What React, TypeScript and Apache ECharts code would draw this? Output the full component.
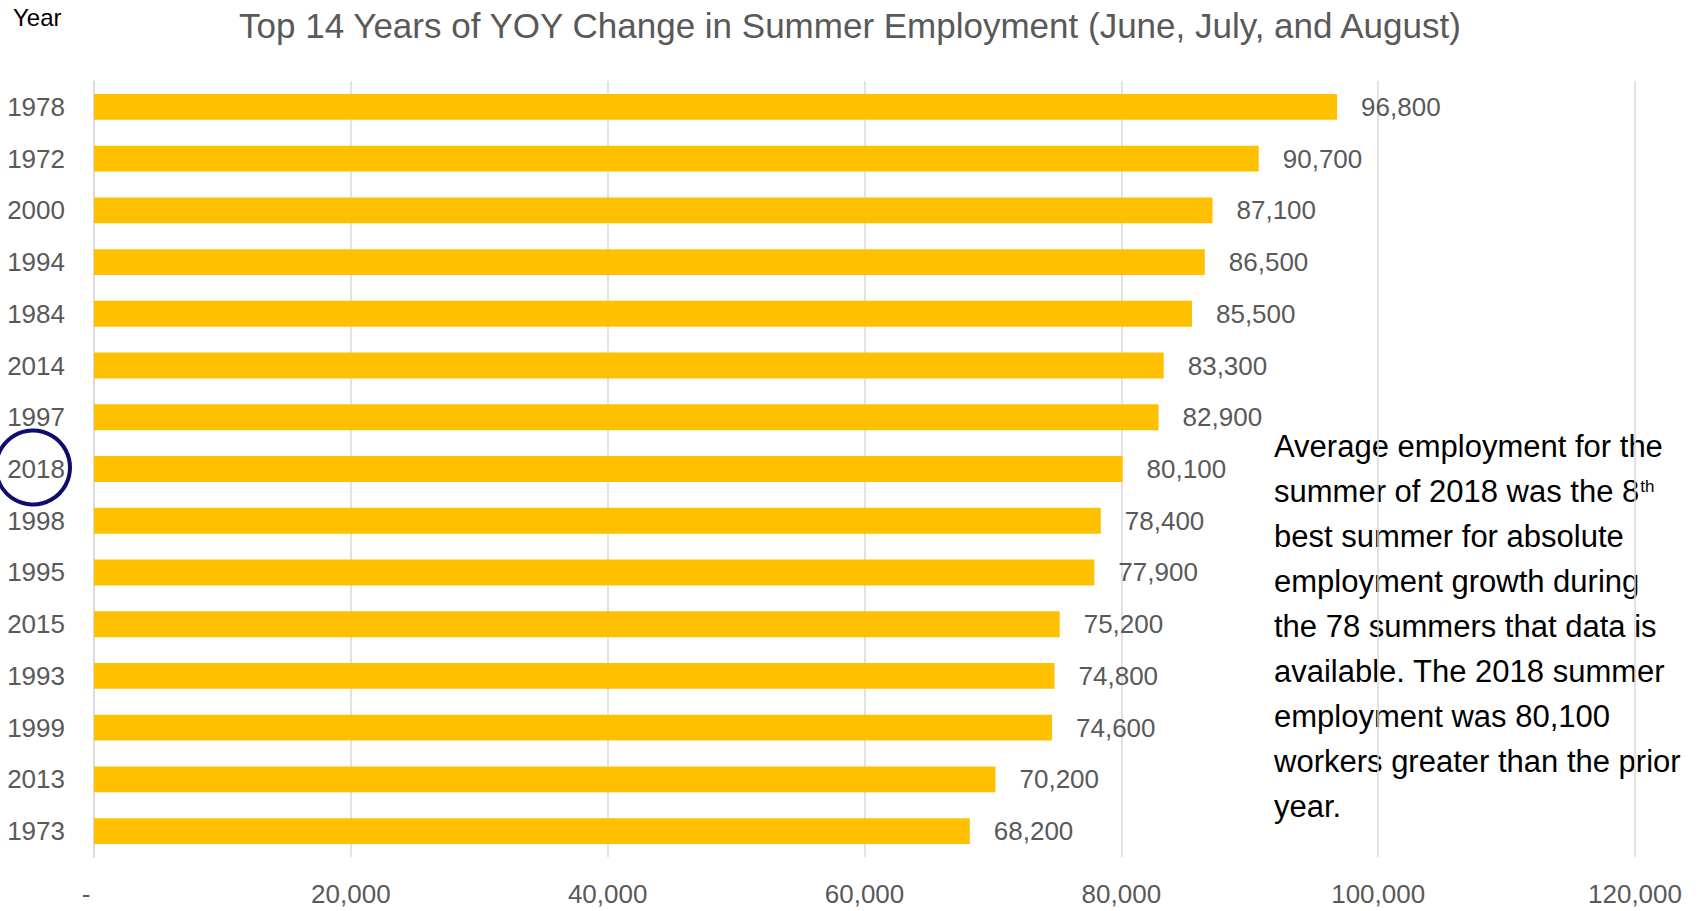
import React, { useEffect, useRef } from "react";
import * as echarts from "echarts";

const years = ["1978", "1972", "2000", "1994", "1984", "2014", "1997", "2018", "1998", "1995", "2015", "1993", "1999", "2013", "1973"];
const values = [96800, 90700, 87100, 86500, 85500, 83300, 82900, 80100, 78400, 77900, 75200, 74800, 74600, 70200, 68200];
const xTicks = { min: 0, max: 120000, interval: 20000 };

const titleText = "Top 14 Years of YOY Change in Summer Employment (June, July, and August)";
const noteLines = [
  "Average employment for the",
  "summer of 2018 was the 8{sup|th}",
  "best summer for absolute",
  "employment growth during",
  "the 78 summers that data is",
  "available. The 2018 summer",
  "employment was 80,100",
  "workers greater than the prior",
  "year.",
];

const FONT = "'Liberation Sans Narrow', 'Arial Narrow', 'Liberation Sans', Arial, sans-serif";
const fmt = (v: number) => v.toLocaleString("en-US");

export default function App() {
  const ref = useRef<HTMLDivElement>(null);
  useEffect(() => {
    if (!ref.current) return;
    const chart = echarts.init(ref.current, null, { renderer: "svg" });
    chart.setOption({
      animation: false,
      textStyle: { fontFamily: FONT },
      title: {
        text: titleText,
        left: "center",
        top: 3,
        textStyle: { fontFamily: FONT, fontSize: 35, fontWeight: "normal", color: "#595959" },
      },
      grid: { left: 94, right: 65, top: 81, bottom: 54, containLabel: false },
      xAxis: {
        type: "value",
        min: xTicks.min,
        max: xTicks.max,
        interval: xTicks.interval,
        axisLine: { show: false },
        axisTick: { show: false },
        splitLine: { show: true, lineStyle: { color: "#d9d9d9", width: 1.5 } },
        axisLabel: {
          formatter: (v: number) => (v === 0 ? "{d|-}" : fmt(v)),
          margin: 24,
          fontFamily: FONT,
          fontSize: 26,
          color: "#595959",
          rich: { d: { fontFamily: FONT, fontSize: 26, color: "#595959", padding: [0, 16, 0, 0] } },
        },
      },
      yAxis: {
        type: "category",
        data: years,
        inverse: true,
        axisLine: { show: true, lineStyle: { color: "#d9d9d9", width: 1.5 } },
        axisTick: { show: false },
        axisLabel: { margin: 29, fontFamily: FONT, fontSize: 26, color: "#595959" },
      },
      series: [
        {
          type: "bar",
          data: values,
          barWidth: "50%",
          itemStyle: { color: "#FFC000" },
          label: {
            show: true,
            position: "right",
            distance: 24,
            formatter: (p: any) => fmt(p.value),
            fontFamily: FONT,
            fontSize: 26,
            color: "#595959",
          },
        },
      ],
      graphic: [
        {
          type: "text",
          left: 13,
          top: 5,
          style: { text: "Year", font: `24px ${FONT}`, fill: "#000" },
        },
        {
          type: "text",
          left: 1274,
          top: 424,
          style: {
            text: noteLines.join("\n"),
            fontFamily: FONT,
            fontSize: 31,
            lineHeight: 45,
            fill: "#000",
            rich: {
              sup: { fontFamily: FONT, fontSize: 17, lineHeight: 17, verticalAlign: "top", padding: [9, 0, 0, 1], fill: "#000" },
            },
          },
        },
        {
          type: "circle",
          shape: { cx: 33, cy: 467.5, r: 37 },
          style: { fill: "none", stroke: "#0d0d70", lineWidth: 4 },
        },
      ],
    });
    return () => chart.dispose();
  }, []);
  return <div ref={ref} style={{ position: "absolute", left: 0, top: 0, width: 1700, height: 911 }} />;
}
